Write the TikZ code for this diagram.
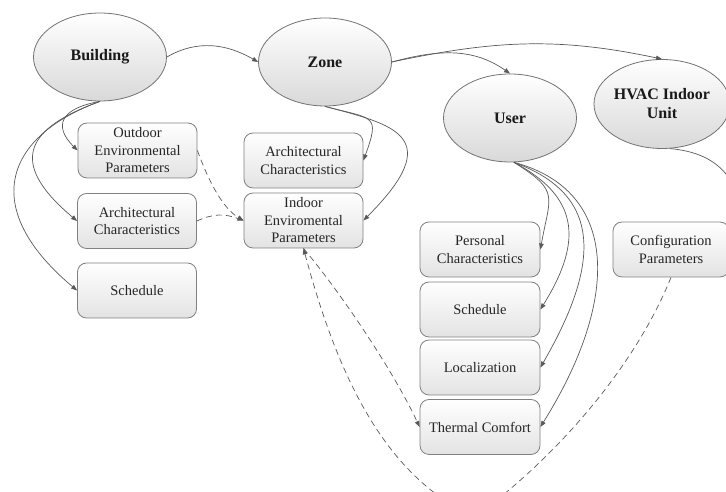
\documentclass[tikz,border=0pt]{standalone}
\usepackage{fontspec}
\setmainfont{Liberation Serif}
\usetikzlibrary{arrows.meta,shapes.geometric}
\begin{document}
\begin{tikzpicture}[x=1pt,y=1pt,
  entity/.style={ellipse, draw=black!55, line width=0.8pt, top color=white, bottom color=black!15,
    minimum width=133pt, minimum height=88pt, inner sep=0pt, align=center,
    font=\fontsize{16}{19}\selectfont\bfseries, text=black!90},
  attr/.style={rectangle, rounded corners=9pt, draw=black!50, line width=0.8pt, top color=white,
    bottom color=black!11, minimum width=119pt, minimum height=55pt, inner sep=0pt, align=center,
    font=\fontsize{14.5}{17.5}\selectfont, text=black!85},
  link/.style={draw=black!65, line width=0.7pt, -{Triangle[length=6pt,width=4.5pt]}},
  soft/.style={draw=black!65, line width=0.7pt, dash pattern=on 6pt off 4pt},
  tipin/.style={-{Triangle[length=6pt,width=4.5pt]}},
  tipout/.style={{Triangle[length=6pt,width=4.5pt]}-},
]
\useasboundingbox (0,0) rectangle (726,492);
\clip (0,0) rectangle (726,492);

% main entities
\node[entity] (b) at (100,435) {Building};
\node[entity] (z) at (325,430) {Zone};
\node[entity] (u) at (510,374) {User};
\node[entity, minimum width=128pt, minimum height=89pt] (h) at (662,388) {HVAC Indoor\\Unit};

% building attributes
\node[attr] (od) at (137.5,341.5) {Outdoor\\Environmental\\Parameters};
\node[attr] (al) at (137,271) {Architectural\\Characteristics};
\node[attr] (sl) at (137,201.5) {Schedule};

% zone attributes
\node[attr] (am) at (303.5,331.5) {Architectural\\Characteristics};
\node[attr] (ie) at (303.5,271.5) {Indoor\\Enviromental\\Parameters};

% user attributes
\node[attr, minimum width=120pt] (pc) at (480,242.5) {Personal\\Characteristics};
\node[attr, minimum width=120pt] (sr) at (480,182.5) {Schedule};
\node[attr, minimum width=120pt] (lo) at (480,124.5) {Localization};
\node[attr, minimum width=120pt] (tc) at (480,65) {Thermal Comfort};

% HVAC attributes
\node[attr, minimum width=116pt] (cp) at (671,242.5) {Configuration\\Parameters};

% free ends running past the frame
\coordinate (hx) at (745,262);
\coordinate (bt) at (474,-25);

% hierarchy links
\draw[link] (b.east) to[out=30,in=150] (z.west);
\draw[link] (z.east) to[out=12,in=168] (h.north);
\draw[link] (z.east) to[out=15,in=145] (u.north);

\draw[link] (b.south) .. controls +(190:40) and +(135:35) .. (od.west);
\draw[link] (b.south) .. controls +(200:75) and +(140:95) .. (al.west);
\draw[link] (b.south) .. controls +(200:100) and +(140:130) .. (sl.west);

\draw[link] (z.south) .. controls +(-15:50) and +(70:50) .. (am.east);
\draw[link] (z.south) .. controls +(-15:70) and +(45:120) .. (ie.east);

\draw[link] (u.-85) .. controls +(-32:55) and +(80:55) .. (pc.east);
\draw[link] (u.-85) .. controls +(-28:70) and +(58:85) .. (sr.east);
\draw[link] (u.-85) .. controls +(-20:95) and +(60:120) .. (lo.east);
\draw[link] (u.-85) .. controls +(-15:110) and +(58:150) .. (tc.east);

\draw[draw=black!65, line width=0.7pt] (h.-80) .. controls +(-5:50) and +(95:50) .. (hx);

% data dependencies
\draw[soft, tipin] (od.east) .. controls +(-70:30) and +(150:25) .. (ie.west);
\draw[soft, tipin] (al.east) .. controls +(25:18) and +(160:20) .. (ie.west);
\draw[soft, tipin] (ie.south) .. controls +(-50:60) and +(115:60) .. (tc.west);
\draw[soft, tipout] (ie.south) .. controls +(-75:130) and +(155:100) .. (bt);
\draw[soft] (cp.south) .. controls +(-112:110) and +(35:80) .. (bt);
\end{tikzpicture}
\end{document}
